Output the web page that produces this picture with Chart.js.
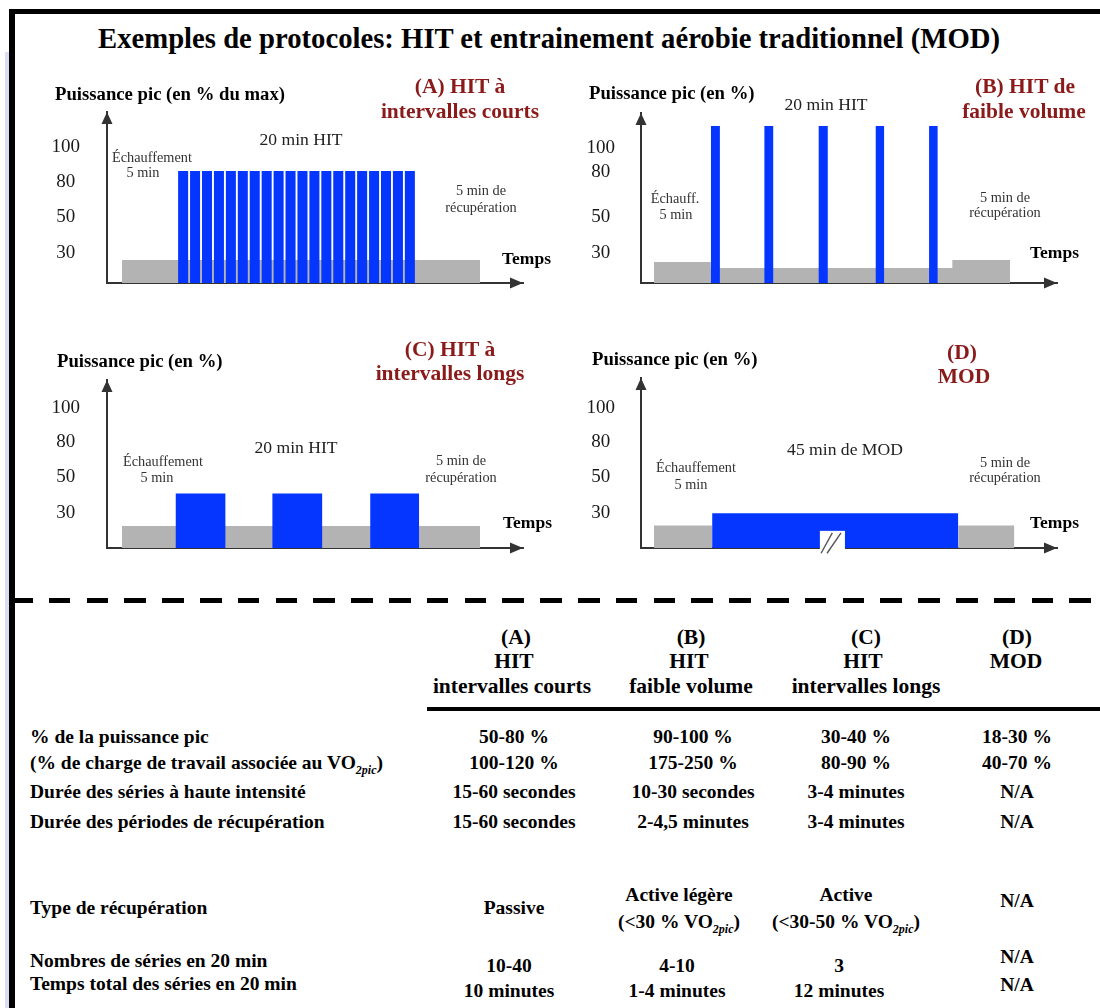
<!DOCTYPE html>
<html lang="fr">
<head>
<meta charset="UTF-8" />
<title>Exemples de protocoles: HIT et MOD</title>
<script src="https://cdn.jsdelivr.net/npm/chart.js"></script>
<style>
  html, body { margin: 0; padding: 0; background: #fff; }
  #page { position: relative; width: 1100px; height: 1008px; overflow: hidden;
          font-family: "Liberation Serif", "Times New Roman", serif; color: #111; }
  #page canvas { position: absolute; }
  .box { position: absolute; }
  .t { position: absolute; white-space: nowrap; line-height: 1; transform: translate(-50%, -50%); }
  .t.left { transform: translate(0, -50%); }
  .title { font-weight: bold; font-size: 28.7px; color: #000; }
  .ax { font-weight: bold; font-size: 18.7px; color: #000; }
  .tm { font-weight: bold; font-size: 17.5px; color: #000; }
  .red { font-weight: bold; font-size: 21.5px; color: #8b1a1a; }
  .note { font-size: 14.3px; color: #333; }
  .mid { font-size: 17.6px; color: #222; }
  .hdr { font-weight: bold; font-size: 21.5px; color: #000; }
  .cell { font-weight: bold; font-size: 19.5px; color: #000; }
  sub { font-style: italic; font-size: 12px; vertical-align: -5px; line-height: 0; }
</style>
</head>
<body>
<div id="page">
  <div class="box" style="left:5px;top:52px;width:4px;height:956px;background:#dcdcf4"></div>
  <div class="box" style="left:9px;top:9px;width:6px;height:999px;background:#000"></div>
  <div class="box" style="left:9px;top:9px;width:1091px;height:5px;background:#000"></div>
  <div class="box" style="left:11px;top:598px;width:1089px;height:5px;
       background:repeating-linear-gradient(90deg,#000 0 21.5px,transparent 21.5px 37.8px)"></div>
  <div class="box" style="left:427px;top:707px;width:673px;height:4px;background:#000"></div>

  <canvas id="chartA" width="520" height="200" style="left:20px;top:100px"></canvas>
  <canvas id="chartB" width="520" height="200" style="left:555px;top:100px"></canvas>
  <canvas id="chartC" width="520" height="200" style="left:20px;top:365px"></canvas>
  <canvas id="chartD" width="520" height="200" style="left:555px;top:365px"></canvas>
</div>

<script>
// ---- data: x in minutes, y in axis steps (one step = spacing between tick labels)
const yTickLabels = ['30', '50', '80', '100'];

// (A) HIT a intervalles courts
const aTickAt = [0.86, 1.89, 2.89, 3.89];
const aBaseStart = [0];
const aBaseEnd = [30];
const aBaseLevel = [0.66];
const aHitStart = [4.7, 5.7, 6.7, 7.7, 8.7, 9.7, 10.7, 11.7, 12.7, 13.7,
                   14.7, 15.7, 16.7, 17.7, 18.7, 19.7, 20.7, 21.7, 22.7, 23.7];
const aHitEnd = [5.54, 6.54, 7.54, 8.54, 9.54, 10.54, 11.54, 12.54, 13.54, 14.54,
                 15.54, 16.54, 17.54, 18.54, 19.54, 20.54, 21.54, 22.54, 23.54, 24.54];
const aHitLevel = [3.2, 3.2, 3.2, 3.2, 3.2, 3.2, 3.2, 3.2, 3.2, 3.2,
                   3.2, 3.2, 3.2, 3.2, 3.2, 3.2, 3.2, 3.2, 3.2, 3.2];

// (B) HIT de faible volume
const bTickAt = [0.86, 1.89, 3.17, 3.86];
const bBaseStart = [0, 4.76, 25.0];
const bBaseEnd = [4.76, 25.0, 29.85];
const bBaseLevel = [0.6, 0.43, 0.66];
const bHitStart = [4.76, 9.25, 13.8, 18.58, 23.05];
const bHitEnd = [5.52, 9.99, 14.56, 19.28, 23.78];
const bHitLevel = [4.49, 4.49, 4.49, 4.49, 4.49];

// (C) HIT a intervalles longs
const cTickAt = [1.01, 2.04, 3.04, 4.0];
const cBaseStart = [0];
const cBaseEnd = [30];
const cBaseLevel = [0.63];
const cHitStart = [4.48, 12.6, 20.8];
const cHitEnd = [8.66, 16.77, 24.9];
const cHitLevel = [1.56, 1.56, 1.56];

// (D) MOD
const dTickAt = [1.0, 2.04, 3.04, 4.0];
const dBaseStart = [0, 25.5];
const dBaseEnd = [4.87, 30.2];
const dBaseLevel = [0.64, 0.64];
const dModStart = [4.87];
const dModEnd = [25.5];
const dModLevel = [0.99];

const BLUE = '#0536ff';
const GREY = '#b3b3b3';
const AXIS = '#333';

Chart.defaults.font.family = '"Liberation Serif", "Times New Roman", serif';

function stepPoints(starts, ends, levels) {
  const pts = [];
  starts.forEach((s, i) => {
    pts.push({ x: s, y: levels[i] });
    pts.push({ x: ends[i], y: 0 });
  });
  return pts;
}

// arrow heads on both axes
const axisArrows = {
  id: 'axisArrows',
  afterDraw(chart) {
    const { ctx, chartArea: { left, top, right, bottom } } = chart;
    ctx.save();
    ctx.fillStyle = AXIS;
    ctx.beginPath();
    ctx.moveTo(left, top);
    ctx.lineTo(left - 5.5, top + 12);
    ctx.lineTo(left + 5.5, top + 12);
    ctx.closePath();
    ctx.moveTo(right, bottom);
    ctx.lineTo(right - 13, bottom - 5.5);
    ctx.lineTo(right - 13, bottom + 5.5);
    ctx.closePath();
    ctx.fill();
    ctx.restore();
  }
};

// "//" gap drawn in the long MOD bar
const axisBreak = {
  id: 'axisBreak',
  afterDatasetsDraw(chart, args, opts) {
    const { ctx, scales: { x, y } } = chart;
    const x0 = x.getPixelForValue(opts.from), x1 = x.getPixelForValue(opts.to);
    const yTop = y.getPixelForValue(opts.top), yBot = y.getPixelForValue(0);
    ctx.save();
    ctx.fillStyle = '#fff';
    ctx.fillRect(x0, yTop, x1 - x0, yBot - yTop + 1);
    ctx.strokeStyle = '#555';
    ctx.lineWidth = 1.4;
    opts.slashes.forEach(([a, b]) => {
      ctx.beginPath();
      ctx.moveTo(x.getPixelForValue(a), y.getPixelForValue(-0.15));
      ctx.lineTo(x.getPixelForValue(b), y.getPixelForValue(0.43));
      ctx.stroke();
    });
    ctx.restore();
  }
};

function panel(id, cfg) {
  const common = { stepped: true, fill: 'origin', borderWidth: 0, borderColor: 'rgba(0,0,0,0)', pointRadius: 0 };
  return new Chart(document.getElementById(id), {
    type: 'line',
    data: {
      datasets: [
        Object.assign({ data: stepPoints(cfg.hitStart, cfg.hitEnd, cfg.hitLevel), backgroundColor: BLUE, order: 0 }, common),
        Object.assign({ data: stepPoints(cfg.baseStart, cfg.baseEnd, cfg.baseLevel), backgroundColor: GREY, order: 1 }, common)
      ]
    },
    options: {
      responsive: false,
      animation: false,
      events: [],
      layout: { autoPadding: false, padding: { top: cfg.padTop, right: cfg.padRight, left: 0, bottom: 0 } },
      plugins: {
        legend: { display: false },
        tooltip: { enabled: false },
        axisBreak: cfg.brk || false
      },
      scales: {
        x: {
          type: 'linear', min: cfg.xMin, max: cfg.xMax,
          grid: { display: false, drawTicks: false },
          ticks: { display: false },
          border: { display: true, color: AXIS, width: 2 },
          afterFit: s => { s.height = 17; s.paddingLeft = 0; s.paddingRight = 0; }
        },
        y: {
          min: 0, max: cfg.yMax,
          grid: { display: false, drawTicks: false },
          border: { display: true, color: AXIS, width: 2 },
          ticks: {
            autoSkip: false, crossAlign: 'center', padding: cfg.tickPad,
            color: '#1a1a1a', font: { size: 19 },
            callback: (v, i) => yTickLabels[i]
          },
          afterBuildTicks: s => { s.ticks = cfg.tickAt.map(v => ({ value: v })); },
          afterFit: s => { s.width = cfg.axisW; s.paddingTop = 0; s.paddingBottom = 0; }
        }
      }
    },
    plugins: [axisArrows, axisBreak]
  });
}

panel('chartA', { hitStart: aHitStart, hitEnd: aHitEnd, hitLevel: aHitLevel,
  baseStart: aBaseStart, baseEnd: aBaseEnd, baseLevel: aBaseLevel, tickAt: aTickAt,
  xMin: -1.26, xMax: 33.6, yMax: 4.89, padTop: 12, padRight: 17, axisW: 87, tickPad: 27 });
panel('chartB', { hitStart: bHitStart, hitEnd: bHitEnd, hitLevel: bHitLevel,
  baseStart: bBaseStart, baseEnd: bBaseEnd, baseLevel: bBaseLevel, tickAt: bTickAt,
  xMin: -1.09, xMax: 33.77, yMax: 4.86, padTop: 13, padRight: 18, axisW: 86, tickPad: 26 });
panel('chartC', { hitStart: cHitStart, hitEnd: cHitEnd, hitLevel: cHitLevel,
  baseStart: cBaseStart, baseEnd: cBaseEnd, baseLevel: cBaseLevel, tickAt: cTickAt,
  xMin: -1.26, xMax: 33.6, yMax: 4.8, padTop: 15, padRight: 17, axisW: 87, tickPad: 27 });
panel('chartD', { hitStart: dModStart, hitEnd: dModEnd, hitLevel: dModLevel,
  baseStart: dBaseStart, baseEnd: dBaseEnd, baseLevel: dBaseLevel, tickAt: dTickAt,
  xMin: -1.09, xMax: 33.77, yMax: 4.86, padTop: 13, padRight: 18, axisW: 86, tickPad: 26,
  brk: { from: 13.9, to: 16.0, top: 0.49, slashes: [[14.0, 14.94], [14.5, 15.67]] } });

// ---- text: [html, x, y, classes]
const texts = [
  ['Exemples de protocoles: HIT et entrainement aérobie traditionnel (MOD)', 549, 38, 'title'],

  ['Puissance pic (en % du max)', 55, 94, 'ax left'],
  ['(A) HIT à', 460, 87, 'red'],
  ['intervalles courts', 460, 112, 'red'],
  ['20 min HIT', 301, 140, 'mid'],
  ['Échauffement', 112, 157, 'note left'],
  ['5 min', 143, 172, 'note'],
  ['5 min de', 481, 190, 'note'],
  ['récupération', 481, 207, 'note'],
  ['Temps', 502, 259, 'tm left'],

  ['Puissance pic (en %)', 589, 93, 'ax left'],
  ['20 min HIT', 826, 105, 'mid'],
  ['(B) HIT de', 1025, 87, 'red'],
  ['faible volume', 1024, 112, 'red'],
  ['Échauff.', 675, 198, 'note'],
  ['5 min', 676, 214, 'note'],
  ['5 min de', 1005, 197, 'note'],
  ['récupération', 1005, 212, 'note'],
  ['Temps', 1030, 253, 'tm left'],

  ['Puissance pic (en %)', 57, 361, 'ax left'],
  ['(C) HIT à', 450, 350, 'red'],
  ['intervalles longs', 450, 374, 'red'],
  ['20 min HIT', 296, 448, 'mid'],
  ['Échauffement', 163, 461, 'note'],
  ['5 min', 157, 477, 'note'],
  ['5 min de', 461, 460, 'note'],
  ['récupération', 461, 477, 'note'],
  ['Temps', 503, 523, 'tm left'],

  ['Puissance pic (en %)', 592, 359, 'ax left'],
  ['(D)', 962, 353, 'red'],
  ['MOD', 964, 377, 'red'],
  ['45 min de MOD', 845, 450, 'mid'],
  ['Échauffement', 696, 467, 'note'],
  ['5 min', 691, 484, 'note'],
  ['5 min de', 1005, 462, 'note'],
  ['récupération', 1005, 477, 'note'],
  ['Temps', 1030, 523, 'tm left'],

  // table header
  ['(A)', 516, 638, 'hdr'], ['HIT', 514, 662, 'hdr'], ['intervalles courts', 512, 687, 'hdr'],
  ['(B)', 691, 638, 'hdr'], ['HIT', 689, 662, 'hdr'], ['faible volume', 691, 687, 'hdr'],
  ['(C)', 866, 638, 'hdr'], ['HIT', 863, 662, 'hdr'], ['intervalles longs', 866, 687, 'hdr'],
  ['(D)', 1017, 638, 'hdr'], ['MOD', 1016, 662, 'hdr'],

  // table rows
  ['% de la puissance pic', 30, 737, 'cell left'],
  ['(% de charge de travail associée au VO<sub>2pic</sub>)', 30, 763, 'cell left'],
  ['Durée des séries à haute intensité', 30, 792, 'cell left'],
  ['Durée des périodes de récupération', 30, 822, 'cell left'],
  ['Type de récupération', 30, 908, 'cell left'],
  ['Nombres de séries en 20 min', 30, 961, 'cell left'],
  ['Temps total des séries en 20 min', 30, 984, 'cell left'],

  ['50-80 %', 514, 737, 'cell'], ['90-100 %', 693, 737, 'cell'], ['30-40 %', 856, 737, 'cell'], ['18-30 %', 1017, 737, 'cell'],
  ['100-120 %', 514, 763, 'cell'], ['175-250 %', 693, 763, 'cell'], ['80-90 %', 856, 763, 'cell'], ['40-70 %', 1017, 763, 'cell'],
  ['15-60 secondes', 514, 792, 'cell'], ['10-30 secondes', 693, 792, 'cell'], ['3-4 minutes', 856, 792, 'cell'], ['N/A', 1017, 792, 'cell'],
  ['15-60 secondes', 514, 822, 'cell'], ['2-4,5 minutes', 693, 822, 'cell'], ['3-4 minutes', 856, 822, 'cell'], ['N/A', 1017, 822, 'cell'],
  ['Passive', 514, 908, 'cell'],
  ['Active légère', 679, 895, 'cell'], ['(&lt;30 % VO<sub>2pic</sub>)', 679, 922, 'cell'],
  ['Active', 846, 895, 'cell'], ['(&lt;30-50 % VO<sub>2pic</sub>)', 846, 922, 'cell'],
  ['N/A', 1017, 901, 'cell'],
  ['10-40', 509, 966, 'cell'], ['10 minutes', 509, 991, 'cell'],
  ['4-10', 677, 966, 'cell'], ['1-4 minutes', 677, 991, 'cell'],
  ['3', 839, 966, 'cell'], ['12 minutes', 839, 991, 'cell'],
  ['N/A', 1017, 957, 'cell'], ['N/A', 1017, 985, 'cell']
];

const page = document.getElementById('page');
texts.forEach(([html, x, y, cls]) => {
  const el = document.createElement('div');
  el.className = 't ' + cls;
  el.style.left = x + 'px';
  el.style.top = y + 'px';
  el.innerHTML = html;
  page.appendChild(el);
});
</script>
</body>
</html>
